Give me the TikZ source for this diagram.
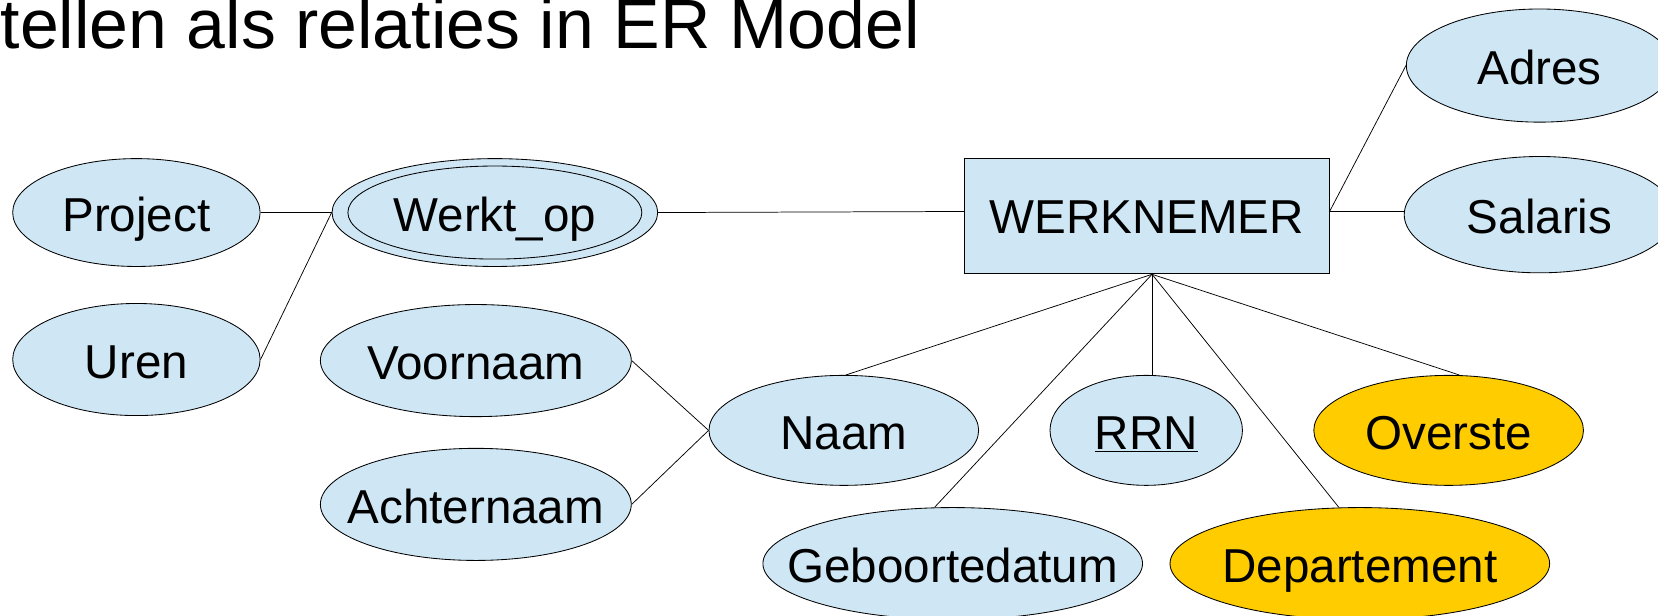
\documentclass[tikz,border=0pt]{standalone}
\usepackage{fontspec}
\setmainfont{Liberation Sans}
\usetikzlibrary{shapes.geometric,calc}
\definecolor{attrblue}{RGB}{207,231,245}
\definecolor{attrgold}{RGB}{255,204,0}
\begin{document}
\begin{tikzpicture}[x=1pt,y=-1pt,
  lbl/.style={font=\fontsize{45}{54}\selectfont, text height=36pt, text depth=0pt, inner sep=0pt},
  esize/.style 2 args={minimum width=#1pt, minimum height=#2pt},
  attr/.style={ellipse, draw=black, line width=0.8pt, fill=attrblue, lbl},
  derived/.style={attr, fill=attrgold},
  entity/.style={rectangle, draw=black, line width=0.8pt, fill=attrblue, lbl, text height=32pt},
  link/.style={draw=black, line width=0.7pt}]
\useasboundingbox (0,0) rectangle (1568,582);
\clip (0,0) rectangle (1568,582);

% heading
\node[anchor=base west, inner sep=0pt, font=\fontsize{66}{79}\selectfont] (title) at (0.5,45.5) {tellen als relaties in ER Model};

% entity
\node[entity, esize={345}{109}] (W) at (1084.5,204.5) {WERKNEMER};

% relationship attributes
\node[attr, esize={234}{102}] (P) at (129,201) {\makebox[0pt]{Project}};
\node[attr, esize={234}{106}] (U) at (129,340) {\makebox[0pt]{Uren}};
\node[attr, esize={308}{102}] (WO) at (468,201) {\makebox[0pt]{Werkt\_op}};
\node[ellipse, draw=black, line width=0.8pt, inner sep=0pt, esize={278}{88}] (WOi) at (WO.center) {};

% attributes of WERKNEMER
\node[attr, esize={252}{107}] (Ad) at (1456,62) {\makebox[0pt]{Adres}};
\node[attr, esize={256}{110}] (S) at (1456,203) {\makebox[0pt]{Salaris}};
\node[attr, esize={294}{106}] (V) at (450,341) {\makebox[0pt]{Voornaam}};
\node[attr, esize={294}{106}] (Ac) at (450,477) {\makebox[0pt]{Achternaam}};
\node[attr, esize={255}{104}] (N) at (798,407) {\makebox[0pt]{Naam}};
\node[attr, esize={182}{104}] (R) at (1084,407) {\makebox[0pt]{\underline{RRN}}};
\node[derived, esize={255}{104}] (O) at (1370,407) {\makebox[0pt]{Overste}};
\node[attr, esize={359}{106}] (G) at (901,533) {\makebox[0pt]{Geboortedatum}};
\node[derived, esize={359}{106}] (D) at (1286,533) {\makebox[0pt]{Departement}};

% connection points on the entity box
\coordinate (Wl) at ([yshift=4.5pt]W.west);
\coordinate (Wr) at ([yshift=4.5pt]W.east);
\coordinate (Wb) at ([xshift=5pt]W.south);

% connectors
\draw[link] (P.east) -- (WO.west);
\draw[link] (U.east) -- (WO.west);
\draw[link] (WO.east) -- (Wl);
\draw[link] (Wr) -- ([yshift=3pt]S.west);
\draw[link] (Wr) -- (Ad.west);
\draw[link] (V.east) -- (N.west);
\draw[link] (Ac.east) -- (N.west);
\draw[link] (Wb) -- ([xshift=2pt]N.north);
\draw[link] (Wb) -- ([xshift=-17pt]G.north);
\draw[link] (Wb) -- (Wb |- R.north);
\draw[link] (Wb) -- ([xshift=-20pt]D.north);
\draw[link] (Wb) -- ([xshift=10pt]O.north);
\end{tikzpicture}
\end{document}
